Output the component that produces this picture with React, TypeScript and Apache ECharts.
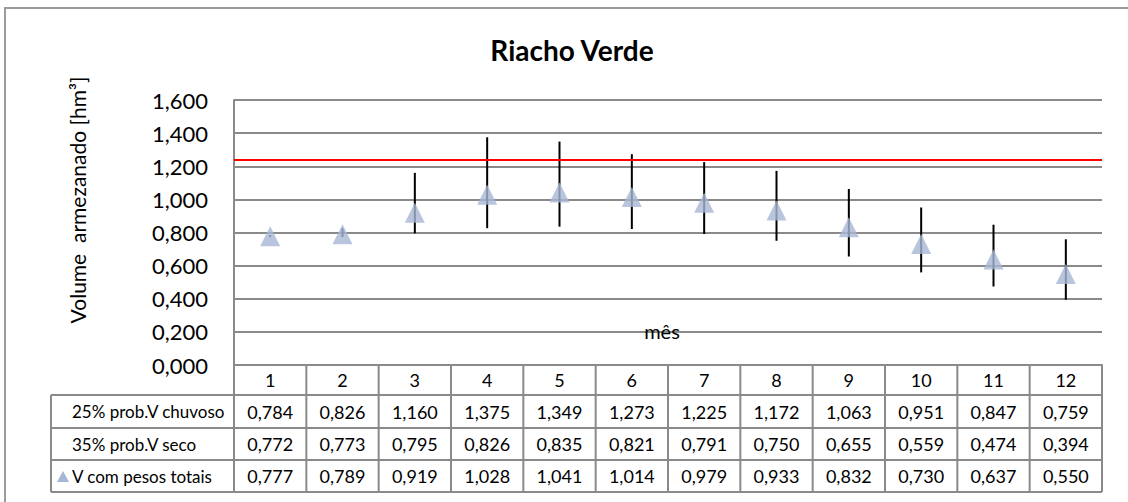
import React, { useEffect, useRef } from 'react';
import * as echarts from 'echarts';

const months = ['1', '2', '3', '4', '5', '6', '7', '8', '9', '10', '11', '12'];
const chuvoso = [0.784, 0.826, 1.16, 1.375, 1.349, 1.273, 1.225, 1.172, 1.063, 0.951, 0.847, 0.759];
const seco = [0.772, 0.773, 0.795, 0.826, 0.835, 0.821, 0.791, 0.75, 0.655, 0.559, 0.474, 0.394];
const pesos = [0.777, 0.789, 0.919, 1.028, 1.041, 1.014, 0.979, 0.933, 0.832, 0.73, 0.637, 0.55];
const rowLabels = ['25% prob.V chuvoso', '35% prob.V seco', 'V com pesos totais'];
const limitValue = 1.236;
const yMin = 0;
const yMax = 1.6;
const yStep = 0.2;

const FONT = 'Lato, "Open Sans", sans-serif';
const fmt = (v: number) => v.toFixed(3).replace('.', ',');

export default function App() {
  const ref = useRef<HTMLDivElement>(null);
  useEffect(() => {
    document.body.style.margin = '0';
    const chart = echarts.init(ref.current!, null, { renderer: 'svg' });
    const W = 1128;
    const gl = 234, gr = 26, gt = 100, gb = 137;
    const gx2 = W - gr;
    const gy2 = 502 - gb;
    const cellW = (gx2 - gl) / months.length;
    const rowY = [gy2, 395, 428, 460, 492];
    const tableLeft = 51;
    const lineStyle = { stroke: '#8a8a8a', lineWidth: 2 };
    const graphics: any[] = [];
    graphics.push({ type: 'rect', shape: { x: 5, y: 8, width: 1140, height: 520 }, style: { fill: 'none', stroke: '#9a9a9a', lineWidth: 2 }, silent: true, z: -1 });
    graphics.push({ type: 'line', shape: { x1: gl, y1: rowY[1], x2: gx2, y2: rowY[1] }, style: lineStyle });
    for (let r = 1; r < rowY.length; r++) {
      graphics.push({ type: 'line', shape: { x1: tableLeft, y1: rowY[r], x2: gx2, y2: rowY[r] }, style: lineStyle });
    }
    graphics.push({ type: 'line', shape: { x1: tableLeft, y1: rowY[1], x2: tableLeft, y2: rowY[4] }, style: lineStyle });
    for (let c = 0; c <= months.length; c++) {
      const x = gl + c * cellW;
      graphics.push({ type: 'line', shape: { x1: x, y1: rowY[0], x2: x, y2: rowY[4] }, style: lineStyle });
    }
    const rows = [chuvoso, seco, pesos];
    const cellFont = `18px ${FONT}`;
    const labelFont = `17px ${FONT}`;
    months.forEach((m, c) => {
      const cx = gl + (c + 0.5) * cellW;
      graphics.push({ type: 'text', x: cx, y: (rowY[0] + rowY[1]) / 2, style: { text: m, font: cellFont, fill: '#000', align: 'center', verticalAlign: 'middle' } });
      rows.forEach((arr, r) => {
        graphics.push({ type: 'text', x: cx, y: (rowY[r + 1] + rowY[r + 2]) / 2, style: { text: fmt(arr[c]), font: cellFont, fill: '#000', align: 'center', verticalAlign: 'middle' } });
      });
    });
    rowLabels.forEach((lab, r) => {
      graphics.push({ type: 'text', x: 72, y: (rowY[r + 1] + rowY[r + 2]) / 2, style: { text: lab, font: labelFont, fill: '#000', align: 'left', verticalAlign: 'middle' } });
    });
    const ty = (rowY[3] + rowY[4]) / 2;
    graphics.push({ type: 'polygon', shape: { points: [[57, ty + 6], [69, ty + 6], [63, ty - 5]] }, style: { fill: '#a7b6d4' } });
    graphics.push({
      type: 'text',
      x: 77,
      y: 200,
      rotation: Math.PI / 2,
      style: { text: 'Volume  armezanado [hm³]', font: `21px ${FONT}`, fill: '#000', align: 'center', verticalAlign: 'middle' },
    });

    chart.setOption({
      animation: false,
      title: {
        text: 'Riacho Verde',
        left: 567,
        textAlign: 'center',
        top: 31,
        textStyle: { fontFamily: FONT, fontSize: 28, fontWeight: 'bold', color: '#000' },
      },
      grid: { left: gl, right: gr, top: gt, bottom: gb, containLabel: false },
      xAxis: {
        type: 'category',
        data: months,
        boundaryGap: true,
        name: 'mês',
        nameLocation: 'middle',
        nameGap: -44,
        nameTextStyle: { fontFamily: FONT, fontSize: 20, color: '#000', padding: [0, 12, 0, 0] },
        axisLine: { show: true, lineStyle: { color: '#8a8a8a', width: 2 } },
        axisTick: { show: false },
        axisLabel: { show: false },
        splitLine: { show: false },
      },
      yAxis: {
        type: 'value',
        min: yMin,
        max: yMax,
        interval: yStep,
        axisLine: { show: true, lineStyle: { color: '#8a8a8a', width: 2 } },
        axisTick: { show: false },
        axisLabel: { formatter: fmt, fontFamily: FONT, fontSize: 22, color: '#000', margin: 26 },
        splitLine: { show: true, lineStyle: { color: '#8a8a8a', width: 2 } },
      },
      series: [
        {
          type: 'custom',
          name: 'erro',
          z: 2,
          encode: { x: 0, y: [1, 2] },
          data: months.map((m, i) => [i, seco[i], chuvoso[i]]),
          renderItem: (params: any, api: any) => {
            const x = api.value(0);
            const lo = api.coord([x, api.value(1)]);
            const hi = api.coord([x, api.value(2)]);
            return {
              type: 'line',
              shape: { x1: lo[0], y1: lo[1], x2: hi[0], y2: hi[1] },
              style: { stroke: '#000', lineWidth: 2 },
            };
          },
        },
        {
          type: 'scatter',
          name: 'V com pesos totais',
          z: 3,
          symbol: 'triangle',
          symbolSize: [20, 20],
          itemStyle: { color: '#a7b6d4' },
          data: pesos,
          markLine: {
            silent: true,
            symbol: 'none',
            label: { show: false },
            lineStyle: { color: '#ff0000', width: 2, type: 'solid' },
            data: [{ yAxis: limitValue }],
          },
        },
      ],
      graphic: graphics,
    });
    return () => chart.dispose();
  }, []);
  return <div ref={ref} style={{ width: 1128, height: 502 }} />;
}
